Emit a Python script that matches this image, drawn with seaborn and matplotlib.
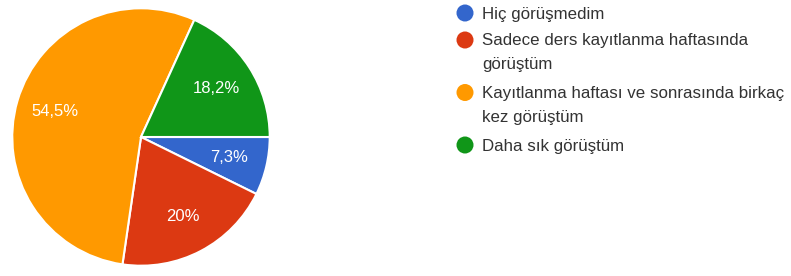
import seaborn as sns
import matplotlib.pyplot as plt

# survey answers, clockwise from 3 o'clock
labels = ["Hiç görüşmedim",
          "Sadece ders kayıtlanma haftasında\ngörüştüm",
          "Kayıtlanma haftası ve sonrasında birkaç\nkez görüştüm",
          "Daha sık görüştüm"]
shares = [7.3, 20.0, 54.5, 18.2]
colors = ["#3366CC", "#DC3912", "#FF9900", "#109618"]

sns.set_theme(style="white")
plt.rcParams['font.family'] = ['Liberation Sans', 'DejaVu Sans']


def fmt_pct(p):
    s = "%.1f" % p
    if s.endswith(".0"):
        s = s[:-2]
    return s.replace(".", ",") + "%"


fig = plt.figure(figsize=(7.91, 2.76), dpi=100)
ax = fig.add_axes([11 / 791, 9 / 276, 260 / 791, 260 / 276])
wedges, texts, autotexts = ax.pie(
    shares, colors=colors, startangle=0, counterclock=False,
    autopct=fmt_pct, pctdistance=0.7, radius=1.0,
    wedgeprops=dict(edgecolor="white", linewidth=1.5),
    textprops=dict(color="white", fontsize=12))
ax.set_xlim(-1.01, 1.01)
ax.set_ylim(-1.01, 1.01)
ax.set_aspect("equal")

# legend drawn by hand so the dot sits on the first line
lax = fig.add_axes([0, 0, 1, 1])
lax.set_axis_off()
lax.set_xlim(0, 791)
lax.set_ylim(276, 0)
y = 13
for lab, c in zip(labels, colors):
    lax.scatter([465], [y], s=150, color=c, edgecolor="none")
    lax.text(482, y - 6.5, lab, fontsize=12.2, color="#333333", va="top",
             linespacing=1.72)
    y += 27 + 25.5 * lab.count("\n")

fig.savefig("out.png", dpi=100)
